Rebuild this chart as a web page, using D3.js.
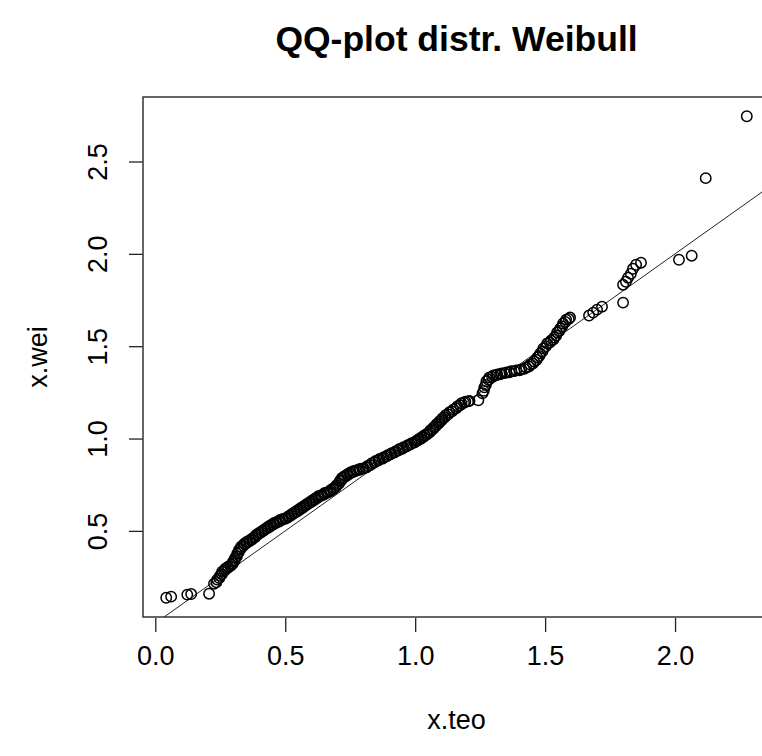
<!DOCTYPE html>
<html>
<head>
<meta charset="utf-8">
<script src="https://cdn.jsdelivr.net/npm/d3@7"></script>
<style>
  html, body { margin: 0; padding: 0; background: #fff; }
  svg { display: block; font-family: "Liberation Sans", Arial, sans-serif; }
</style>
</head>
<body>
<svg id="chart" width="762" height="756"></svg>
<script>
// Theoretical Weibull quantiles (x.teo)
const xTeo = [
  0.042, 0.061, 0.123, 0.138, 0.207,
  0.226, 0.235, 0.238, 0.246, 0.249, 0.256, 0.257, 0.266, 0.269, 0.277, 0.280,
  0.289, 0.292, 0.298, 0.299, 0.306, 0.307, 0.314, 0.315, 0.321, 0.322, 0.329,
  0.330, 0.339, 0.342, 0.350, 0.353, 0.362, 0.365, 0.373, 0.376, 0.385, 0.388,
  0.396, 0.399, 0.408, 0.411, 0.419, 0.422, 0.431, 0.434, 0.442, 0.445, 0.454,
  0.457, 0.465, 0.468, 0.477, 0.480, 0.488, 0.491, 0.500, 0.503, 0.511, 0.514,
  0.523, 0.526, 0.534, 0.537, 0.546, 0.549, 0.557, 0.560, 0.569, 0.572, 0.580,
  0.583, 0.592, 0.595, 0.603, 0.606, 0.615, 0.618, 0.626, 0.629, 0.638, 0.641,
  0.649, 0.652, 0.661, 0.664, 0.672, 0.675, 0.684, 0.687, 0.695, 0.698, 0.707,
  0.710, 0.717, 0.718, 0.726, 0.729, 0.738, 0.741, 0.749, 0.752, 0.761, 0.764,
  0.772, 0.775, 0.784, 0.787, 0.797, 0.802, 0.812, 0.817, 0.828, 0.833, 0.843,
  0.848, 0.858, 0.863, 0.874, 0.879, 0.889, 0.894, 0.904, 0.909, 0.920, 0.925,
  0.935, 0.940, 0.950, 0.955, 0.966, 0.971, 0.981, 0.986, 0.997, 1.002, 1.010,
  1.013, 1.022, 1.025, 1.033, 1.036, 1.045, 1.048, 1.056, 1.059, 1.068, 1.071,
  1.079, 1.082, 1.091, 1.094, 1.102, 1.105, 1.114, 1.117, 1.127, 1.132, 1.142,
  1.147, 1.158, 1.163, 1.173, 1.178, 1.188, 1.193, 1.204, 1.209,
  1.243,
  1.259, 1.264, 1.266, 1.272, 1.274, 1.282, 1.285, 1.296, 1.301, 1.311, 1.316,
  1.327, 1.332, 1.344, 1.351, 1.363, 1.370, 1.382, 1.389, 1.401, 1.408, 1.420,
  1.427, 1.438, 1.443, 1.453, 1.458, 1.467, 1.470, 1.478, 1.481, 1.490, 1.493,
  1.503, 1.508, 1.518, 1.523, 1.532, 1.535, 1.543, 1.546, 1.555, 1.558, 1.566,
  1.569, 1.578, 1.581, 1.591, 1.596,
  1.669, 1.685, 1.700, 1.719, 1.800, 1.800, 1.811, 1.819, 1.830, 1.838, 1.850,
  1.869, 2.015, 2.064, 2.118, 2.276
];
// Sample values (x.wei), sorted
const xWei = [
  0.138, 0.144, 0.155, 0.158, 0.160,
  0.214, 0.222, 0.236, 0.244, 0.257, 0.265, 0.279, 0.284, 0.295, 0.298, 0.306,
  0.309, 0.317, 0.322, 0.333, 0.341, 0.354, 0.362, 0.376, 0.384, 0.397, 0.403,
  0.414, 0.419, 0.430, 0.433, 0.441, 0.443, 0.451, 0.454, 0.462, 0.467, 0.478,
  0.481, 0.489, 0.492, 0.500, 0.503, 0.511, 0.514, 0.522, 0.524, 0.532, 0.535,
  0.543, 0.544, 0.549, 0.551, 0.559, 0.560, 0.565, 0.566, 0.570, 0.573, 0.581,
  0.584, 0.592, 0.595, 0.603, 0.605, 0.613, 0.616, 0.624, 0.627, 0.635, 0.638,
  0.646, 0.649, 0.657, 0.659, 0.667, 0.670, 0.678, 0.681, 0.689, 0.690, 0.694,
  0.697, 0.705, 0.706, 0.710, 0.713, 0.721, 0.724, 0.732, 0.737, 0.748, 0.756,
  0.770, 0.775, 0.786, 0.789, 0.797, 0.800, 0.808, 0.810, 0.818, 0.819, 0.824,
  0.825, 0.829, 0.830, 0.835, 0.836, 0.840, 0.843, 0.851, 0.856, 0.867, 0.870,
  0.878, 0.881, 0.889, 0.891, 0.899, 0.902, 0.910, 0.913, 0.921, 0.924, 0.932,
  0.935, 0.943, 0.945, 0.953, 0.956, 0.964, 0.967, 0.975, 0.978, 0.986, 0.989,
  0.997, 0.999, 1.007, 1.010, 1.018, 1.021, 1.029, 1.034, 1.045, 1.050, 1.061,
  1.066, 1.077, 1.083, 1.094, 1.099, 1.110, 1.115, 1.126, 1.131, 1.142, 1.147,
  1.158, 1.164, 1.175, 1.180, 1.191, 1.194, 1.200, 1.201, 1.204,
  1.207,
  1.245, 1.258, 1.277, 1.290, 1.310, 1.318, 1.331, 1.334, 1.342, 1.343, 1.347,
  1.348, 1.353, 1.354, 1.358, 1.359, 1.364, 1.365, 1.369, 1.370, 1.374, 1.377,
  1.385, 1.390, 1.401, 1.406, 1.417, 1.425, 1.439, 1.447, 1.461, 1.472, 1.488,
  1.499, 1.515, 1.520, 1.531, 1.536, 1.547, 1.558, 1.574, 1.582, 1.596, 1.607,
  1.623, 1.631, 1.644, 1.647, 1.655,
  1.666, 1.682, 1.698, 1.714, 1.736, 1.833, 1.849, 1.871, 1.892, 1.919, 1.941,
  1.952, 1.968, 1.990, 2.410, 2.745
];
const xTicks = [0.0, 0.5, 1.0, 1.5, 2.0];
const yTicks = [0.5, 1.0, 1.5, 2.0, 2.5];
const refLine = { intercept: 0, slope: 1 };
const titleText = "QQ-plot distr. Weibull";
const xLabel = "x.teo";
const yLabel = "x.wei";

const n = Math.min(xTeo.length, xWei.length);
const points = d3.range(n).map(i => ({ x: xTeo[i], y: xWei[i] }));

const plot = { left: 143, top: 97, right: 770, bottom: 617 };

function padded(ext) {
  const r = ext[1] - ext[0];
  return [ext[0] - 0.04 * r, ext[1] + 0.04 * r];
}

const x = d3.scaleLinear().domain(padded(d3.extent(xTeo))).range([plot.left, plot.right]);
const y = d3.scaleLinear().domain(padded(d3.extent(xWei))).range([plot.bottom, plot.top]);

const svg = d3.select("#chart");

svg.append("defs").append("clipPath").attr("id", "clip")
  .append("rect")
  .attr("x", plot.left).attr("y", plot.top)
  .attr("width", plot.right - plot.left).attr("height", plot.bottom - plot.top);

// Title
svg.append("text")
  .attr("x", (plot.left + plot.right) / 2)
  .attr("y", 51)
  .attr("text-anchor", "middle")
  .attr("font-size", 35.5)
  .attr("font-weight", "bold")
  .attr("fill", "#000")
  .text(titleText);

// X axis
const xAxis = d3.axisBottom(x).tickValues(xTicks).tickFormat(d3.format(".1f"))
  .tickSize(14).tickPadding(14);
const gx = svg.append("g")
  .attr("transform", `translate(0,${plot.bottom + 1})`)
  .call(xAxis);
gx.select(".domain").remove();
gx.selectAll("line").attr("stroke", "#222").attr("stroke-width", 1.3);
gx.selectAll("text").attr("font-size", 27).attr("fill", "#000")
  .attr("font-family", "Liberation Sans, Arial, sans-serif");

// Y axis
const yAxis = d3.axisLeft(y).tickValues(yTicks).tickFormat(d3.format(".1f"))
  .tickSize(14).tickPadding(14);
const gy = svg.append("g")
  .attr("transform", `translate(${plot.left},0)`)
  .call(yAxis);
gy.select(".domain").remove();
gy.selectAll("line").attr("stroke", "#222").attr("stroke-width", 1.3);
gy.selectAll("text")
  .attr("font-size", 27).attr("fill", "#000")
  .attr("font-family", "Liberation Sans, Arial, sans-serif")
  .attr("text-anchor", "middle")
  .attr("dy", null)
  .attr("x", null)
  .attr("transform", `translate(-46,0) rotate(-90)`)
  .attr("y", 10);

// Axis labels
svg.append("text")
  .attr("x", (plot.left + plot.right) / 2)
  .attr("y", 729)
  .attr("text-anchor", "middle")
  .attr("font-size", 27)
  .attr("fill", "#000")
  .text(xLabel);

svg.append("text")
  .attr("transform", `translate(47,${(plot.top + plot.bottom) / 2}) rotate(-90)`)
  .attr("text-anchor", "middle")
  .attr("font-size", 27)
  .attr("fill", "#000")
  .text(yLabel);

// Plot box
svg.append("rect")
  .attr("x", plot.left).attr("y", plot.top)
  .attr("width", plot.right - plot.left).attr("height", plot.bottom - plot.top)
  .attr("fill", "none").attr("stroke", "#333").attr("stroke-width", 1.5);

const body = svg.append("g").attr("clip-path", "url(#clip)");

// Reference line
const xd = x.domain();
body.append("line")
  .attr("x1", x(xd[0])).attr("y1", y(refLine.intercept + refLine.slope * xd[0]))
  .attr("x2", x(xd[1])).attr("y2", y(refLine.intercept + refLine.slope * xd[1]))
  .attr("stroke", "#222").attr("stroke-width", 1);

// Points
body.selectAll("circle").data(points).enter().append("circle")
  .attr("cx", d => x(d.x)).attr("cy", d => y(d.y))
  .attr("r", 5.2)
  .attr("fill", "none")
  .attr("stroke", "#000")
  .attr("stroke-width", 1.5);
</script>
</body>
</html>
